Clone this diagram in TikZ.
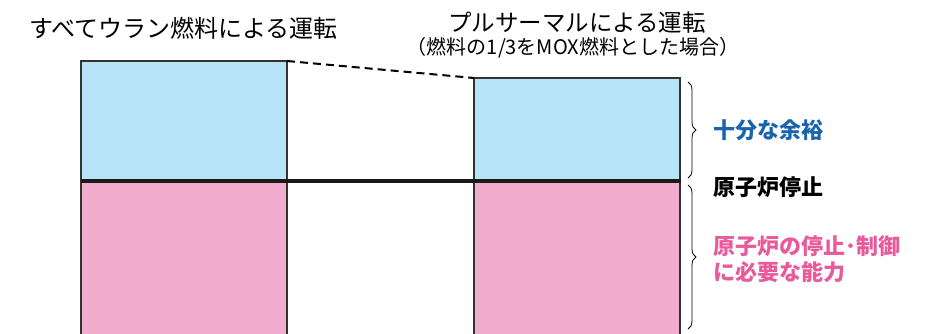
\documentclass[tikz,border=0pt]{standalone}
\usepackage{fontspec}
\setmainfont{Noto Sans CJK JP}
\usetikzlibrary{decorations.pathreplacing}
\definecolor{uranblue}{HTML}{B8E4F8}
\definecolor{seigyopink}{HTML}{F2ACCE}
\definecolor{yoyublue}{HTML}{1A64AC}
\definecolor{noryokupink}{HTML}{E85A9C}
\tikzset{
  bar/.style={draw=black!80,line width=1.3pt},
  kakko/.style={decorate,decoration={brace,amplitude=8pt},line width=.8pt},
  label/.style={anchor=west,font=\fontsize{22}{26}\selectfont\bfseries,align=left,inner sep=0pt}
}
\begin{document}
\begin{tikzpicture}[x=1pt,y=-1pt]
    \clip (0,0) rectangle (946,334);
    % left column: all uranium fuel
    \fill[uranblue] (81,61) rectangle (287,181);
    \fill[seigyopink] (81,181) rectangle (287,340);
    \draw[bar] (81,340) |- (287,61) coordinate (uranTop) -- (287,340);
    % right column: pluthermal
    \fill[uranblue] (474,78) rectangle (680,181);
    \fill[seigyopink] (474,181) rectangle (680,340);
    \draw[bar] (474,340) |- (680,78) -- (680,340);
    \coordinate (plutTop) at (474,78);
    \draw[line width=2pt,dash pattern=on 8pt off 5pt] (uranTop) -- (plutTop);
    % shutdown line
    \draw[line width=4pt,black!90] (80.5,181) coordinate (teishiL) -- (680.5,181) coordinate (teishiR);
    % titles
    \node[font=\fontsize{24}{26}\selectfont] (uran) at (183.5,28) {すべてウラン燃料による運転};
    \node[font=\fontsize{23.5}{26}\selectfont] (pluther) at (577,22.5) {プルサーマルによる運転};
    \node[font=\fontsize{20}{22}\selectfont] (pluthersub) at (573,48) {（燃料の1/3をMOX燃料とした場合）};
    % braces and labels
    \draw[kakko] (688,82) -- (688,178);
    \draw[kakko] (688,185) -- (688,329);
    \node[label,text=yoyublue] (yoyu) at (713,130) {十分な余裕};
    \node[label] (teishi) at (713,187) {原子炉停止};
    \node[label,text=noryokupink] (noryoku) at (713,259) {原子炉の停止･制御\\に必要な能力};
\end{tikzpicture}
\end{document}
